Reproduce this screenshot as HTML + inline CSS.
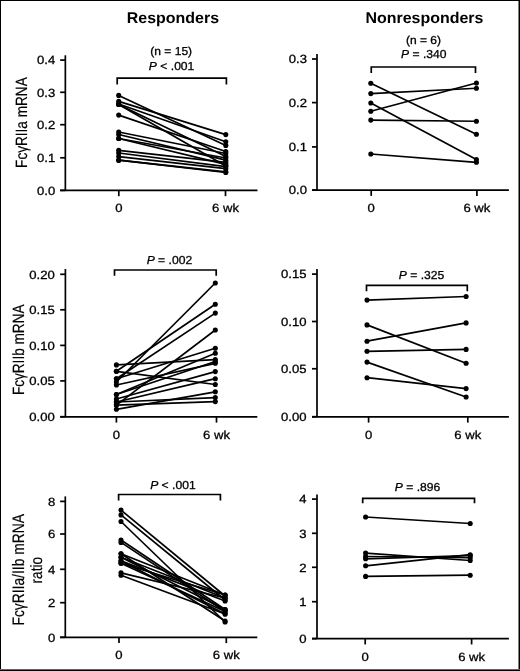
<!DOCTYPE html>
<html><head><meta charset="utf-8"><style>
html,body{margin:0;padding:0;background:#fff;}
body{width:520px;height:671px;overflow:hidden;position:relative;}
svg{position:absolute;left:0;top:0;display:block;filter:grayscale(1);}
text{text-rendering:geometricPrecision;}
</style></head><body>
<svg width="520" height="671" viewBox="0 0 520 671">
<g font-family='"Liberation Sans", sans-serif' fill="#000" stroke="#000" stroke-width="0.3">
<text x="0" y="0" font-size="15.5" font-weight="bold" stroke-width="0" text-anchor="middle" transform="translate(172.9,23) scale(1.03,1)">Responders</text>
<text x="0" y="0" font-size="15.5" font-weight="bold" stroke-width="0" text-anchor="middle" transform="translate(424.4,23) scale(1.03,1)">Nonresponders</text>
<text x="0" y="0" font-size="13.6" stroke-width="0.15" text-anchor="middle" transform="translate(27.2,122.6) scale(1.2,1) rotate(-90)">Fc&#947;RIIa mRNA</text>
<text x="0" y="0" font-size="13.6" stroke-width="0.15" text-anchor="middle" transform="translate(23.6,349.8) scale(1.2,1) rotate(-90)">Fc&#947;RIIb mRNA</text>
<text x="0" y="0" font-size="13.85" stroke-width="0.15" text-anchor="middle" transform="translate(23.8,569.8) scale(1.2,1) rotate(-90)">Fc&#947;RIIa/IIb mRNA</text>
<text x="0" y="0" font-size="13.6" stroke-width="0.15" text-anchor="middle" transform="translate(42.2,570.2) scale(1.2,1) rotate(-90)">ratio</text>
</g>
<g font-family='"Liberation Sans", sans-serif' fill="#000" stroke="#000" stroke-width="1.7" stroke-linecap="butt">
</g>
<g font-family='"Liberation Sans", sans-serif' fill="#000" stroke="#000" stroke-width="0.3">
<text x="0" y="0" font-size="11.9" text-anchor="end" font-weight="normal" transform="translate(55.20,64.40) scale(1.1,1)">0.4</text>
<text x="0" y="0" font-size="11.9" text-anchor="end" font-weight="normal" transform="translate(55.20,96.60) scale(1.1,1)">0.3</text>
<text x="0" y="0" font-size="11.9" text-anchor="end" font-weight="normal" transform="translate(55.20,129.00) scale(1.1,1)">0.2</text>
<text x="0" y="0" font-size="11.9" text-anchor="end" font-weight="normal" transform="translate(55.20,162.10) scale(1.1,1)">0.1</text>
<text x="0" y="0" font-size="11.9" text-anchor="end" font-weight="normal" transform="translate(55.20,194.70) scale(1.1,1)">0.0</text>
<text x="0" y="0" font-size="11.9" text-anchor="middle" font-weight="normal" transform="translate(118.80,212.30) scale(1.1,1)">0</text>
<text x="0" y="0" font-size="11.9" text-anchor="middle" font-weight="normal" transform="translate(225.50,212.30) scale(1.1,1)">6 wk</text>
<text x="0" y="0" font-size="11.5" text-anchor="middle" font-weight="normal" transform="translate(171.20,54.90) scale(1.045,1)">(n = 15)</text>
<text x="0" y="0" font-size="11.6" text-anchor="middle" font-weight="normal" transform="translate(171.60,69.50) scale(1.045,1)"><tspan font-style="italic">P</tspan> &lt; .001</text>
<text x="0" y="0" font-size="11.9" text-anchor="end" font-weight="normal" transform="translate(307.00,63.30) scale(1.1,1)">0.3</text>
<text x="0" y="0" font-size="11.9" text-anchor="end" font-weight="normal" transform="translate(307.00,106.90) scale(1.1,1)">0.2</text>
<text x="0" y="0" font-size="11.9" text-anchor="end" font-weight="normal" transform="translate(307.00,151.20) scale(1.1,1)">0.1</text>
<text x="0" y="0" font-size="11.9" text-anchor="end" font-weight="normal" transform="translate(307.00,194.40) scale(1.1,1)">0.0</text>
<text x="0" y="0" font-size="11.9" text-anchor="middle" font-weight="normal" transform="translate(371.20,212.30) scale(1.1,1)">0</text>
<text x="0" y="0" font-size="11.9" text-anchor="middle" font-weight="normal" transform="translate(476.90,212.30) scale(1.1,1)">6 wk</text>
<text x="0" y="0" font-size="11.5" text-anchor="middle" font-weight="normal" transform="translate(423.50,43.50) scale(1.045,1)">(n = 6)</text>
<text x="0" y="0" font-size="11.6" text-anchor="middle" font-weight="normal" transform="translate(423.75,58.00) scale(1.045,1)"><tspan font-style="italic">P</tspan> = .340</text>
<text x="0" y="0" font-size="11.9" text-anchor="end" font-weight="normal" transform="translate(54.80,278.60) scale(1.1,1)">0.20</text>
<text x="0" y="0" font-size="11.9" text-anchor="end" font-weight="normal" transform="translate(54.80,314.10) scale(1.1,1)">0.15</text>
<text x="0" y="0" font-size="11.9" text-anchor="end" font-weight="normal" transform="translate(54.80,349.70) scale(1.1,1)">0.10</text>
<text x="0" y="0" font-size="11.9" text-anchor="end" font-weight="normal" transform="translate(54.80,385.20) scale(1.1,1)">0.05</text>
<text x="0" y="0" font-size="11.9" text-anchor="end" font-weight="normal" transform="translate(54.80,421.00) scale(1.1,1)">0.00</text>
<text x="0" y="0" font-size="11.9" text-anchor="middle" font-weight="normal" transform="translate(116.40,438.80) scale(1.1,1)">0</text>
<text x="0" y="0" font-size="11.9" text-anchor="middle" font-weight="normal" transform="translate(216.50,438.80) scale(1.1,1)">6 wk</text>
<text x="0" y="0" font-size="11.6" text-anchor="middle" font-weight="normal" transform="translate(169.40,263.80) scale(1.045,1)"><tspan font-style="italic">P</tspan> = .002</text>
<text x="0" y="0" font-size="11.9" text-anchor="end" font-weight="normal" transform="translate(306.50,278.40) scale(1.1,1)">0.15</text>
<text x="0" y="0" font-size="11.9" text-anchor="end" font-weight="normal" transform="translate(306.50,325.80) scale(1.1,1)">0.10</text>
<text x="0" y="0" font-size="11.9" text-anchor="end" font-weight="normal" transform="translate(306.50,373.05) scale(1.1,1)">0.05</text>
<text x="0" y="0" font-size="11.9" text-anchor="end" font-weight="normal" transform="translate(306.50,421.00) scale(1.1,1)">0.00</text>
<text x="0" y="0" font-size="11.9" text-anchor="middle" font-weight="normal" transform="translate(368.60,438.80) scale(1.1,1)">0</text>
<text x="0" y="0" font-size="11.9" text-anchor="middle" font-weight="normal" transform="translate(467.80,438.80) scale(1.1,1)">6 wk</text>
<text x="0" y="0" font-size="11.6" text-anchor="middle" font-weight="normal" transform="translate(421.50,278.90) scale(1.045,1)"><tspan font-style="italic">P</tspan> = .325</text>
<text x="0" y="0" font-size="11.9" text-anchor="end" font-weight="normal" transform="translate(55.30,505.70) scale(1.1,1)">8</text>
<text x="0" y="0" font-size="11.9" text-anchor="end" font-weight="normal" transform="translate(55.30,538.30) scale(1.1,1)">6</text>
<text x="0" y="0" font-size="11.9" text-anchor="end" font-weight="normal" transform="translate(55.30,573.60) scale(1.1,1)">4</text>
<text x="0" y="0" font-size="11.9" text-anchor="end" font-weight="normal" transform="translate(55.30,607.00) scale(1.1,1)">2</text>
<text x="0" y="0" font-size="11.9" text-anchor="end" font-weight="normal" transform="translate(55.30,641.60) scale(1.1,1)">0</text>
<text x="0" y="0" font-size="11.9" text-anchor="middle" font-weight="normal" transform="translate(119.00,659.20) scale(1.1,1)">0</text>
<text x="0" y="0" font-size="11.9" text-anchor="middle" font-weight="normal" transform="translate(226.30,659.20) scale(1.1,1)">6 wk</text>
<text x="0" y="0" font-size="11.6" text-anchor="middle" font-weight="normal" transform="translate(172.90,488.50) scale(1.045,1)"><tspan font-style="italic">P</tspan> &lt; .001</text>
<text x="0" y="0" font-size="11.9" text-anchor="end" font-weight="normal" transform="translate(306.60,503.40) scale(1.1,1)">4</text>
<text x="0" y="0" font-size="11.9" text-anchor="end" font-weight="normal" transform="translate(306.60,537.60) scale(1.1,1)">3</text>
<text x="0" y="0" font-size="11.9" text-anchor="end" font-weight="normal" transform="translate(306.60,571.60) scale(1.1,1)">2</text>
<text x="0" y="0" font-size="11.9" text-anchor="end" font-weight="normal" transform="translate(306.60,606.00) scale(1.1,1)">1</text>
<text x="0" y="0" font-size="11.9" text-anchor="end" font-weight="normal" transform="translate(306.60,642.90) scale(1.1,1)">0</text>
<text x="0" y="0" font-size="11.9" text-anchor="middle" font-weight="normal" transform="translate(365.20,660.50) scale(1.1,1)">0</text>
<text x="0" y="0" font-size="11.9" text-anchor="middle" font-weight="normal" transform="translate(471.60,660.50) scale(1.1,1)">6 wk</text>
<text x="0" y="0" font-size="11.6" text-anchor="middle" font-weight="normal" transform="translate(417.50,490.80) scale(1.045,1)"><tspan font-style="italic">P</tspan> = .896</text>
</g>
<g fill="#000" stroke="#000" stroke-width="1.7" stroke-linecap="butt">
<line x1="65.35" y1="55.3" x2="65.35" y2="190.4" />
<line x1="60.14999999999999" y1="190.4" x2="257.5" y2="190.4" />
<line x1="60.14999999999999" y1="60.1" x2="65.35" y2="60.1" />
<line x1="60.14999999999999" y1="92.3" x2="65.35" y2="92.3" />
<line x1="60.14999999999999" y1="124.7" x2="65.35" y2="124.7" />
<line x1="60.14999999999999" y1="157.8" x2="65.35" y2="157.8" />
<line x1="60.14999999999999" y1="190.4" x2="65.35" y2="190.4" />
<line x1="118.8" y1="190.4" x2="118.8" y2="196.20000000000002" />
<line x1="225.5" y1="190.4" x2="225.5" y2="196.20000000000002" />
<polyline points="117.2,84.4 117.2,78.1 226.4,78.1 226.4,84.4" fill="none" />
<line x1="118.7" y1="95.4" x2="225.8" y2="145.4" stroke-width="1.7" />
<line x1="118.7" y1="101.4" x2="225.8" y2="134.6" stroke-width="1.7" />
<line x1="118.7" y1="104" x2="225.8" y2="141.7" stroke-width="1.7" />
<line x1="118.7" y1="104.4" x2="225.8" y2="166" stroke-width="1.7" />
<line x1="118.7" y1="104.4" x2="225.8" y2="156.5" stroke-width="1.7" />
<line x1="118.7" y1="115.1" x2="225.8" y2="151.5" stroke-width="1.7" />
<line x1="118.7" y1="132" x2="225.8" y2="153.5" stroke-width="1.7" />
<line x1="118.7" y1="134.5" x2="225.8" y2="160.2" stroke-width="1.7" />
<line x1="118.7" y1="138.5" x2="225.8" y2="164.4" stroke-width="1.7" />
<line x1="118.7" y1="150.3" x2="225.8" y2="162.3" stroke-width="1.7" />
<line x1="118.7" y1="153" x2="225.8" y2="166.6" stroke-width="1.7" />
<line x1="118.7" y1="156.6" x2="225.8" y2="168.7" stroke-width="1.7" />
<line x1="118.7" y1="160.2" x2="225.8" y2="171.8" stroke-width="1.7" />
<line x1="118.7" y1="138.5" x2="225.8" y2="158" stroke-width="1.7" />
<line x1="118.7" y1="160.2" x2="225.8" y2="172.5" stroke-width="1.7" />
<circle cx="118.7" cy="95.4" r="2.55" stroke="none" />
<circle cx="225.8" cy="145.4" r="2.55" stroke="none" />
<circle cx="118.7" cy="101.4" r="2.55" stroke="none" />
<circle cx="225.8" cy="134.6" r="2.55" stroke="none" />
<circle cx="118.7" cy="104" r="2.55" stroke="none" />
<circle cx="225.8" cy="141.7" r="2.55" stroke="none" />
<circle cx="118.7" cy="104.4" r="2.55" stroke="none" />
<circle cx="225.8" cy="166" r="2.55" stroke="none" />
<circle cx="118.7" cy="104.4" r="2.55" stroke="none" />
<circle cx="225.8" cy="156.5" r="2.55" stroke="none" />
<circle cx="118.7" cy="115.1" r="2.55" stroke="none" />
<circle cx="225.8" cy="151.5" r="2.55" stroke="none" />
<circle cx="118.7" cy="132" r="2.55" stroke="none" />
<circle cx="225.8" cy="153.5" r="2.55" stroke="none" />
<circle cx="118.7" cy="134.5" r="2.55" stroke="none" />
<circle cx="225.8" cy="160.2" r="2.55" stroke="none" />
<circle cx="118.7" cy="138.5" r="2.55" stroke="none" />
<circle cx="225.8" cy="164.4" r="2.55" stroke="none" />
<circle cx="118.7" cy="150.3" r="2.55" stroke="none" />
<circle cx="225.8" cy="162.3" r="2.55" stroke="none" />
<circle cx="118.7" cy="153" r="2.55" stroke="none" />
<circle cx="225.8" cy="166.6" r="2.55" stroke="none" />
<circle cx="118.7" cy="156.6" r="2.55" stroke="none" />
<circle cx="225.8" cy="168.7" r="2.55" stroke="none" />
<circle cx="118.7" cy="160.2" r="2.55" stroke="none" />
<circle cx="225.8" cy="171.8" r="2.55" stroke="none" />
<circle cx="118.7" cy="138.5" r="2.55" stroke="none" />
<circle cx="225.8" cy="158" r="2.55" stroke="none" />
<circle cx="118.7" cy="160.2" r="2.55" stroke="none" />
<circle cx="225.8" cy="172.5" r="2.55" stroke="none" />
<line x1="317.0" y1="54.1" x2="317.0" y2="190.1" />
<line x1="312.0" y1="190.1" x2="508.9" y2="190.1" />
<line x1="312.0" y1="59" x2="317.0" y2="59" />
<line x1="312.0" y1="102.6" x2="317.0" y2="102.6" />
<line x1="312.0" y1="146.9" x2="317.0" y2="146.9" />
<line x1="312.0" y1="190.1" x2="317.0" y2="190.1" />
<line x1="371.2" y1="190.1" x2="371.2" y2="195.9" />
<line x1="476.9" y1="190.1" x2="476.9" y2="195.9" />
<polyline points="371.25,73 371.25,67 475.5,67 475.5,73" fill="none" />
<line x1="370.8" y1="83.3" x2="476.4" y2="134.25" stroke-width="1.7" />
<line x1="370.8" y1="93.6" x2="476.4" y2="88.25" stroke-width="1.7" />
<line x1="370.8" y1="103" x2="476.4" y2="159.5" stroke-width="1.7" />
<line x1="370.8" y1="111.2" x2="476.4" y2="83" stroke-width="1.7" />
<line x1="370.8" y1="120.1" x2="476.4" y2="121.25" stroke-width="1.7" />
<line x1="370.8" y1="154" x2="476.4" y2="162.3" stroke-width="1.7" />
<circle cx="370.8" cy="83.3" r="2.55" stroke="none" />
<circle cx="476.4" cy="134.25" r="2.55" stroke="none" />
<circle cx="370.8" cy="93.6" r="2.55" stroke="none" />
<circle cx="476.4" cy="88.25" r="2.55" stroke="none" />
<circle cx="370.8" cy="103" r="2.55" stroke="none" />
<circle cx="476.4" cy="159.5" r="2.55" stroke="none" />
<circle cx="370.8" cy="111.2" r="2.55" stroke="none" />
<circle cx="476.4" cy="83" r="2.55" stroke="none" />
<circle cx="370.8" cy="120.1" r="2.55" stroke="none" />
<circle cx="476.4" cy="121.25" r="2.55" stroke="none" />
<circle cx="370.8" cy="154" r="2.55" stroke="none" />
<circle cx="476.4" cy="162.3" r="2.55" stroke="none" />
<line x1="65.4" y1="269" x2="65.4" y2="416.8" />
<line x1="60.2" y1="416.8" x2="257.3" y2="416.8" />
<line x1="60.2" y1="274.3" x2="65.4" y2="274.3" />
<line x1="60.2" y1="309.8" x2="65.4" y2="309.8" />
<line x1="60.2" y1="345.4" x2="65.4" y2="345.4" />
<line x1="60.2" y1="380.9" x2="65.4" y2="380.9" />
<line x1="60.2" y1="416.7" x2="65.4" y2="416.7" />
<line x1="116.4" y1="416.8" x2="116.4" y2="422.6" />
<line x1="216.5" y1="416.8" x2="216.5" y2="422.6" />
<polyline points="114.5,275.8 114.5,270 216.2,270 216.2,275.8" fill="none" />
<line x1="116.4" y1="382" x2="215.3" y2="283" stroke-width="1.7" />
<line x1="116.4" y1="371.3" x2="215.3" y2="304.2" stroke-width="1.7" />
<line x1="116.4" y1="378.7" x2="215.3" y2="313.1" stroke-width="1.7" />
<line x1="116.4" y1="405.1" x2="215.3" y2="330" stroke-width="1.7" />
<line x1="116.4" y1="378.7" x2="215.3" y2="348.2" stroke-width="1.7" />
<line x1="116.4" y1="394.5" x2="215.3" y2="353.2" stroke-width="1.7" />
<line x1="116.4" y1="364.9" x2="215.3" y2="359.6" stroke-width="1.7" />
<line x1="116.4" y1="385" x2="215.3" y2="363.3" stroke-width="1.7" />
<line x1="116.4" y1="399" x2="215.3" y2="371.6" stroke-width="1.7" />
<line x1="116.4" y1="402" x2="215.3" y2="378.7" stroke-width="1.7" />
<line x1="116.4" y1="371.3" x2="215.3" y2="384.5" stroke-width="1.7" />
<line x1="116.4" y1="409.3" x2="215.3" y2="391.8" stroke-width="1.7" />
<line x1="116.4" y1="402" x2="215.3" y2="397.6" stroke-width="1.7" />
<line x1="116.4" y1="405.1" x2="215.3" y2="401.6" stroke-width="1.7" />
<line x1="116.4" y1="394.5" x2="215.3" y2="361.5" stroke-width="1.7" />
<circle cx="116.4" cy="382" r="2.55" stroke="none" />
<circle cx="215.3" cy="283" r="2.55" stroke="none" />
<circle cx="116.4" cy="371.3" r="2.55" stroke="none" />
<circle cx="215.3" cy="304.2" r="2.55" stroke="none" />
<circle cx="116.4" cy="378.7" r="2.55" stroke="none" />
<circle cx="215.3" cy="313.1" r="2.55" stroke="none" />
<circle cx="116.4" cy="405.1" r="2.55" stroke="none" />
<circle cx="215.3" cy="330" r="2.55" stroke="none" />
<circle cx="116.4" cy="378.7" r="2.55" stroke="none" />
<circle cx="215.3" cy="348.2" r="2.55" stroke="none" />
<circle cx="116.4" cy="394.5" r="2.55" stroke="none" />
<circle cx="215.3" cy="353.2" r="2.55" stroke="none" />
<circle cx="116.4" cy="364.9" r="2.55" stroke="none" />
<circle cx="215.3" cy="359.6" r="2.55" stroke="none" />
<circle cx="116.4" cy="385" r="2.55" stroke="none" />
<circle cx="215.3" cy="363.3" r="2.55" stroke="none" />
<circle cx="116.4" cy="399" r="2.55" stroke="none" />
<circle cx="215.3" cy="371.6" r="2.55" stroke="none" />
<circle cx="116.4" cy="402" r="2.55" stroke="none" />
<circle cx="215.3" cy="378.7" r="2.55" stroke="none" />
<circle cx="116.4" cy="371.3" r="2.55" stroke="none" />
<circle cx="215.3" cy="384.5" r="2.55" stroke="none" />
<circle cx="116.4" cy="409.3" r="2.55" stroke="none" />
<circle cx="215.3" cy="391.8" r="2.55" stroke="none" />
<circle cx="116.4" cy="402" r="2.55" stroke="none" />
<circle cx="215.3" cy="397.6" r="2.55" stroke="none" />
<circle cx="116.4" cy="405.1" r="2.55" stroke="none" />
<circle cx="215.3" cy="401.6" r="2.55" stroke="none" />
<circle cx="116.4" cy="394.5" r="2.55" stroke="none" />
<circle cx="215.3" cy="361.5" r="2.55" stroke="none" />
<line x1="317.0" y1="269" x2="317.0" y2="416.8" />
<line x1="312.0" y1="416.8" x2="508.9" y2="416.8" />
<line x1="312.0" y1="274.1" x2="317.0" y2="274.1" />
<line x1="312.0" y1="321.5" x2="317.0" y2="321.5" />
<line x1="312.0" y1="368.75" x2="317.0" y2="368.75" />
<line x1="312.0" y1="416.7" x2="317.0" y2="416.7" />
<line x1="368.6" y1="416.8" x2="368.6" y2="422.6" />
<line x1="467.8" y1="416.8" x2="467.8" y2="422.6" />
<polyline points="366.5,291.2 366.5,285.4 467.3,285.4 467.3,291.2" fill="none" />
<line x1="367" y1="300.1" x2="466.1" y2="296.5" stroke-width="1.7" />
<line x1="367" y1="324.9" x2="466.1" y2="363.3" stroke-width="1.7" />
<line x1="367" y1="341.2" x2="466.1" y2="322.9" stroke-width="1.7" />
<line x1="367" y1="351.3" x2="466.1" y2="349.4" stroke-width="1.7" />
<line x1="367" y1="362.1" x2="466.1" y2="397" stroke-width="1.7" />
<line x1="367" y1="377.7" x2="466.1" y2="388.6" stroke-width="1.7" />
<circle cx="367" cy="300.1" r="2.55" stroke="none" />
<circle cx="466.1" cy="296.5" r="2.55" stroke="none" />
<circle cx="367" cy="324.9" r="2.55" stroke="none" />
<circle cx="466.1" cy="363.3" r="2.55" stroke="none" />
<circle cx="367" cy="341.2" r="2.55" stroke="none" />
<circle cx="466.1" cy="322.9" r="2.55" stroke="none" />
<circle cx="367" cy="351.3" r="2.55" stroke="none" />
<circle cx="466.1" cy="349.4" r="2.55" stroke="none" />
<circle cx="367" cy="362.1" r="2.55" stroke="none" />
<circle cx="466.1" cy="397" r="2.55" stroke="none" />
<circle cx="367" cy="377.7" r="2.55" stroke="none" />
<circle cx="466.1" cy="388.6" r="2.55" stroke="none" />
<line x1="65.3" y1="496.4" x2="65.3" y2="637.3" />
<line x1="60.099999999999994" y1="637.3" x2="257.3" y2="637.3" />
<line x1="60.099999999999994" y1="501.4" x2="65.3" y2="501.4" />
<line x1="60.099999999999994" y1="534.0" x2="65.3" y2="534.0" />
<line x1="60.099999999999994" y1="569.3" x2="65.3" y2="569.3" />
<line x1="60.099999999999994" y1="602.7" x2="65.3" y2="602.7" />
<line x1="60.099999999999994" y1="637.3" x2="65.3" y2="637.3" />
<line x1="119.0" y1="637.3" x2="119.0" y2="643.0999999999999" />
<line x1="226.3" y1="637.3" x2="226.3" y2="643.0999999999999" />
<polyline points="118.6,500.4 118.6,494.5 220.4,494.5 220.4,500.4" fill="none" />
<line x1="121.0" y1="510.1" x2="225.1" y2="596" stroke-width="1.7" />
<line x1="121.0" y1="514.9" x2="225.1" y2="600" stroke-width="1.7" />
<line x1="121.0" y1="521.5" x2="225.1" y2="622" stroke-width="1.7" />
<line x1="121.0" y1="540" x2="225.1" y2="609.5" stroke-width="1.7" />
<line x1="121.0" y1="542.4" x2="225.1" y2="611.5" stroke-width="1.7" />
<line x1="121.0" y1="553.7" x2="225.1" y2="595" stroke-width="1.7" />
<line x1="121.0" y1="557.3" x2="225.1" y2="598" stroke-width="1.7" />
<line x1="121.0" y1="560.9" x2="225.1" y2="614" stroke-width="1.7" />
<line x1="121.0" y1="563.2" x2="225.1" y2="595" stroke-width="1.7" />
<line x1="121.0" y1="572.8" x2="225.1" y2="598" stroke-width="1.7" />
<line x1="121.0" y1="575.2" x2="225.1" y2="614" stroke-width="1.7" />
<line x1="121.0" y1="553.7" x2="225.1" y2="621" stroke-width="1.7" />
<line x1="121.0" y1="557.3" x2="225.1" y2="609.5" stroke-width="1.7" />
<line x1="121.0" y1="560.9" x2="225.1" y2="601" stroke-width="1.7" />
<line x1="121.0" y1="563.2" x2="225.1" y2="611.5" stroke-width="1.7" />
<circle cx="121.0" cy="510.1" r="2.55" stroke="none" />
<circle cx="225.1" cy="596" r="2.55" stroke="none" />
<circle cx="121.0" cy="514.9" r="2.55" stroke="none" />
<circle cx="225.1" cy="600" r="2.55" stroke="none" />
<circle cx="121.0" cy="521.5" r="2.55" stroke="none" />
<circle cx="225.1" cy="622" r="2.55" stroke="none" />
<circle cx="121.0" cy="540" r="2.55" stroke="none" />
<circle cx="225.1" cy="609.5" r="2.55" stroke="none" />
<circle cx="121.0" cy="542.4" r="2.55" stroke="none" />
<circle cx="225.1" cy="611.5" r="2.55" stroke="none" />
<circle cx="121.0" cy="553.7" r="2.55" stroke="none" />
<circle cx="225.1" cy="595" r="2.55" stroke="none" />
<circle cx="121.0" cy="557.3" r="2.55" stroke="none" />
<circle cx="225.1" cy="598" r="2.55" stroke="none" />
<circle cx="121.0" cy="560.9" r="2.55" stroke="none" />
<circle cx="225.1" cy="614" r="2.55" stroke="none" />
<circle cx="121.0" cy="563.2" r="2.55" stroke="none" />
<circle cx="225.1" cy="595" r="2.55" stroke="none" />
<circle cx="121.0" cy="572.8" r="2.55" stroke="none" />
<circle cx="225.1" cy="598" r="2.55" stroke="none" />
<circle cx="121.0" cy="575.2" r="2.55" stroke="none" />
<circle cx="225.1" cy="614" r="2.55" stroke="none" />
<circle cx="121.0" cy="553.7" r="2.55" stroke="none" />
<circle cx="225.1" cy="621" r="2.55" stroke="none" />
<circle cx="121.0" cy="557.3" r="2.55" stroke="none" />
<circle cx="225.1" cy="609.5" r="2.55" stroke="none" />
<circle cx="121.0" cy="560.9" r="2.55" stroke="none" />
<circle cx="225.1" cy="601" r="2.55" stroke="none" />
<circle cx="121.0" cy="563.2" r="2.55" stroke="none" />
<circle cx="225.1" cy="611.5" r="2.55" stroke="none" />
<line x1="317.0" y1="494.4" x2="317.0" y2="638.65" />
<line x1="312.0" y1="638.65" x2="508.9" y2="638.65" />
<line x1="312.0" y1="499.1" x2="317.0" y2="499.1" />
<line x1="312.0" y1="533.3" x2="317.0" y2="533.3" />
<line x1="312.0" y1="567.3" x2="317.0" y2="567.3" />
<line x1="312.0" y1="601.7" x2="317.0" y2="601.7" />
<line x1="312.0" y1="638.6" x2="317.0" y2="638.6" />
<line x1="365.2" y1="638.65" x2="365.2" y2="644.4499999999999" />
<line x1="471.6" y1="638.65" x2="471.6" y2="644.4499999999999" />
<polyline points="362.7,503.2 362.7,498.4 474.5,498.4 474.5,503.2" fill="none" />
<line x1="365.6" y1="517" x2="470.2" y2="523.5" stroke-width="1.7" />
<line x1="365.6" y1="553.1" x2="470.2" y2="560.5" stroke-width="1.7" />
<line x1="365.6" y1="556.5" x2="470.2" y2="557.7" stroke-width="1.7" />
<line x1="365.6" y1="558.8" x2="470.2" y2="555.5" stroke-width="1.7" />
<line x1="365.6" y1="565.8" x2="470.2" y2="554.7" stroke-width="1.7" />
<line x1="365.6" y1="576.4" x2="470.2" y2="575.2" stroke-width="1.7" />
<circle cx="365.6" cy="517" r="2.55" stroke="none" />
<circle cx="470.2" cy="523.5" r="2.55" stroke="none" />
<circle cx="365.6" cy="553.1" r="2.55" stroke="none" />
<circle cx="470.2" cy="560.5" r="2.55" stroke="none" />
<circle cx="365.6" cy="556.5" r="2.55" stroke="none" />
<circle cx="470.2" cy="557.7" r="2.55" stroke="none" />
<circle cx="365.6" cy="558.8" r="2.55" stroke="none" />
<circle cx="470.2" cy="555.5" r="2.55" stroke="none" />
<circle cx="365.6" cy="565.8" r="2.55" stroke="none" />
<circle cx="470.2" cy="554.7" r="2.55" stroke="none" />
<circle cx="365.6" cy="576.4" r="2.55" stroke="none" />
<circle cx="470.2" cy="575.2" r="2.55" stroke="none" />
</g>
<rect x="0" y="0" width="520" height="1" fill="#000"/>
<rect x="0" y="0" width="1" height="671" fill="#000"/>
<rect x="518.5" y="0" width="1.5" height="671" fill="#000"/>
<rect x="0" y="669" width="520" height="1" fill="#666"/>
<rect x="0" y="670" width="520" height="1" fill="#000"/>
</svg>
</body></html>
